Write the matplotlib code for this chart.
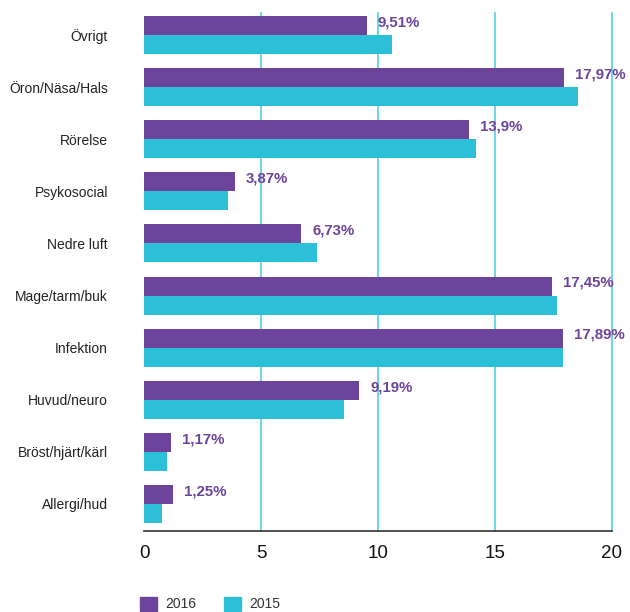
import numpy as np
import matplotlib.pyplot as plt
from matplotlib.patches import Rectangle

plt.rcParams['font.family'] = ['Liberation Sans', 'DejaVu Sans']

# data
kategorier = ['Övrigt', 'Öron/Näsa/Hals', 'Rörelse', 'Psykosocial', 'Nedre luft',
              'Mage/tarm/buk', 'Infektion', 'Huvud/neuro', 'Bröst/hjärt/kärl', 'Allergi/hud']
v2016 = [9.51, 17.97, 13.9, 3.87, 6.73, 17.45, 17.89, 9.19, 1.17, 1.25]
v2015 = [10.6, 18.55, 14.2, 3.6, 7.4, 17.65, 17.9, 8.55, 1.0, 0.78]
etiketter = ['9,51%', '17,97%', '13,9%', '3,87%', '6,73%',
             '17,45%', '17,89%', '9,19%', '1,17%', '1,25%']
xticks = [0, 5, 10, 15, 20]

lila = '#6d449b'
turkos = '#2bbfd8'

fig = plt.figure(figsize=(6.3, 6.12), dpi=100)
ax = fig.add_axes([144/630, 1-531/612, 468/630, 522/612])

y = np.arange(len(kategorier))
h = 0.365
ax.barh(y - h/2, v2016, height=h, color=lila, zorder=3)
ax.barh(y + h/2, v2015, height=h, color=turkos, zorder=3)

for yi, v, t in zip(y, v2016, etiketter):
    ax.text(v + 0.47, yi - h/2 - 0.06, t, color=lila, fontsize=10.8, fontweight='bold',
            va='center', ha='left', zorder=4)

ax.set_xlim(0, 20)
ax.set_ylim(len(kategorier) - 0.48, -0.5)
ax.set_yticks(y)
ax.set_yticklabels(kategorier, fontsize=10, color='#222222')
ax.set_xticks(xticks)
ax.set_xticklabels([str(t) for t in xticks], fontsize=13.5, color='#111111')
ax.tick_params(axis='y', length=0, pad=26)
ax.tick_params(axis='x', length=0, pad=10)

for xt in xticks[1:]:
    ax.plot([xt, xt], [len(kategorier) - 0.48, -0.42], color=turkos, lw=1.1,
            alpha=0.85, zorder=1, clip_on=False)

for s in ['top', 'right', 'left']:
    ax.spines[s].set_visible(False)
ax.spines['bottom'].set_color('#333333')
ax.spines['bottom'].set_linewidth(1.2)

# legend
for x0, col, lab in [(140, lila, '2016'), (224, turkos, '2015')]:
    fig.patches.append(Rectangle((x0/630, 1-611/612), 17/630, 14/612,
                                 transform=fig.transFigure, color=col))
    fig.text((x0+25)/630, 1-604/612, lab, fontsize=10, color='#333333', va='center')

fig.savefig('out.png', dpi=100)
